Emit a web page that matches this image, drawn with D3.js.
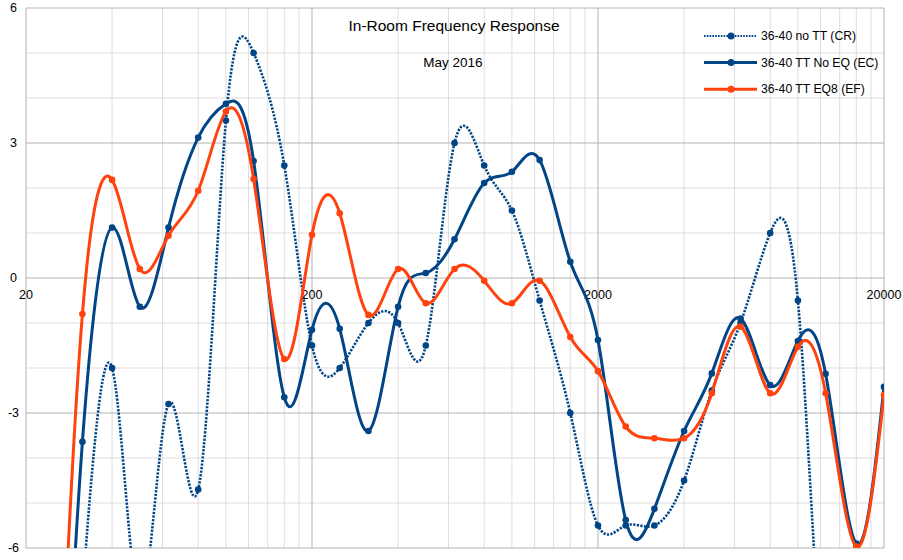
<!DOCTYPE html>
<html>
<head>
<meta charset="utf-8">
<script src="https://cdn.jsdelivr.net/npm/d3@7"></script>
<style>
  html, body { margin: 0; padding: 0; background: #fff; }
  svg { display: block; font-family: "Liberation Sans", Arial, sans-serif; }
</style>
</head>
<body>
<svg id="chart" width="903" height="560"></svg>
<script>
// ---- data ----
const freqs = [25, 31.5, 40, 50, 63, 80, 100, 125, 160, 200, 250, 315, 400, 500, 630, 800, 1000, 1250, 1600, 2000, 2500, 3150, 4000, 5000, 6300, 8000, 10000, 12500, 16000, 20000];
const noTT = [-16, -7, -2.0, -7.2, -2.8, -4.7, 3.5, 5.0, 2.5, -1.5, -2.0, -1.0, -1.0, -1.5, 3.0, 2.5, 1.5, -0.5, -3.0, -5.5, -5.5, -5.5, -4.5, -2.5, -1.0, 1.0, -0.5, -10, -14, -14];
const ttNoEQ = [-15, -3.64, 1.12, -0.64, 1.12, 3.12, 3.87, 2.6, -2.65, -1.15, -1.13, -3.4, -0.64, 0.11, 0.86, 2.11, 2.36, 2.62, 0.36, -1.38, -5.38, -5.13, -3.4, -2.12, -0.9, -2.38, -1.4, -2.13, -5.9, -2.42];
const ttEQ8 = [-13, -0.8, 2.18, 0.2, 0.94, 1.94, 3.7, 2.2, -1.8, 0.96, 1.44, -0.82, 0.2, -0.56, 0.2, -0.06, -0.56, -0.06, -1.31, -2.07, -3.3, -3.56, -3.56, -2.56, -1.08, -2.56, -1.53, -2.56, -5.97, -2.6];
const seriesNames = ["36-40 no TT (CR)", "36-40 TT No EQ (EC)", "36-40 TT EQ8 (EF)"];
const xTickLabels = [20, 200, 2000, 20000];
const yTickLabels = [6, 3, 0, -3, -6];
const titleText = "In-Room Frequency Response";
const subtitleText = "May 2016";

// ---- layout ----
const svg = d3.select("#chart");
const pL = 26, pR = 884, pT = 8, pB = 548;
const x = d3.scaleLog().domain([20, 20000]).range([pL, pR]);
const y = d3.scaleLinear().domain([-6, 6]).range([pB, pT]);
const blue = "#004586", orange = "#ff420e";

// gridlines
const g = svg.append("g");
const minorX = [];
[20, 200, 2000].forEach(b => { for (let k = 2; k <= 9; k++) minorX.push(b * k); });
g.selectAll(".vminor").data(minorX).enter().append("line")
  .attr("x1", d => x(d)).attr("x2", d => x(d)).attr("y1", pT).attr("y2", pB)
  .attr("stroke", "#dddddd").attr("stroke-width", 1);
const minorY = d3.range(-6, 7, 1).filter(v => v % 3 !== 0);
g.selectAll(".hminor").data(minorY).enter().append("line")
  .attr("x1", pL).attr("x2", pR).attr("y1", d => y(d)).attr("y2", d => y(d))
  .attr("stroke", "#dddddd").attr("stroke-width", 1);
g.selectAll(".vmajor").data(xTickLabels).enter().append("line")
  .attr("x1", d => x(d)).attr("x2", d => x(d)).attr("y1", pT).attr("y2", pB)
  .attr("stroke", "#b3b3b3").attr("stroke-width", 1);
g.selectAll(".hmajor").data(yTickLabels).enter().append("line")
  .attr("x1", pL).attr("x2", pR).attr("y1", d => y(d)).attr("y2", d => y(d))
  .attr("stroke", "#b3b3b3").attr("stroke-width", 1);

// axis labels
svg.selectAll(".ylab").data(yTickLabels).enter().append("text")
  .attr("x", 13.5).attr("y", d => y(d)).attr("dy", "0.35em")
  .attr("text-anchor", "middle").attr("font-size", "12.5px").attr("fill", "#000")
  .text(d => d);
svg.selectAll(".xlab").data(xTickLabels).enter().append("text")
  .attr("x", d => x(d)).attr("y", y(0) + 21)
  .attr("text-anchor", "middle").attr("font-size", "12.5px").attr("fill", "#000")
  .text(d => d);

// title
svg.append("text").attr("x", 454).attr("y", 31).attr("text-anchor", "middle")
  .attr("font-size", "15.5px").attr("fill", "#000").text(titleText);
svg.append("text").attr("x", 453).attr("y", 67).attr("text-anchor", "middle")
  .attr("font-size", "13.5px").attr("fill", "#000").text(subtitleText);

// clip
svg.append("clipPath").attr("id", "plotclip").append("rect")
  .attr("x", pL).attr("y", pT).attr("width", pR - pL).attr("height", pB - pT);

const line = d3.line().x((d, i) => x(freqs[i])).y(d => y(d)).curve(d3.curveNatural);
const series = [
  { name: seriesNames[0], values: noTT, color: blue, dash: "2.2,1.4", width: 2.6 },
  { name: seriesNames[1], values: ttNoEQ, color: blue, dash: null, width: 3 },
  { name: seriesNames[2], values: ttEQ8, color: orange, dash: null, width: 3 }
];
const plot = svg.append("g").attr("clip-path", "url(#plotclip)");
series.forEach(s => {
  plot.append("path").attr("d", line(s.values)).attr("fill", "none")
    .attr("stroke", s.color).attr("stroke-width", s.width)
    .attr("stroke-dasharray", s.dash).attr("stroke-linejoin", "round");
  plot.selectAll(null).data(s.values).enter().append("circle")
    .attr("cx", (d, i) => x(freqs[i])).attr("cy", d => y(d)).attr("r", 3.3)
    .attr("fill", s.color);
});

// legend
const lg = svg.append("g");
series.forEach((s, i) => {
  const cy = 36 + i * 26.6;
  lg.append("line").attr("x1", 704).attr("x2", 757).attr("y1", cy).attr("y2", cy)
    .attr("stroke", s.color).attr("stroke-width", s.dash ? 2 : 3)
    .attr("stroke-dasharray", s.dash ? "1.6,1.2" : null);
  lg.append("circle").attr("cx", 731).attr("cy", cy).attr("r", 3.5).attr("fill", s.color);
  lg.append("text").attr("x", 761).attr("y", cy).attr("dy", "0.35em")
    .attr("font-size", "12.2px").attr("fill", "#000").text(s.name);
});
</script>
</body>
</html>
